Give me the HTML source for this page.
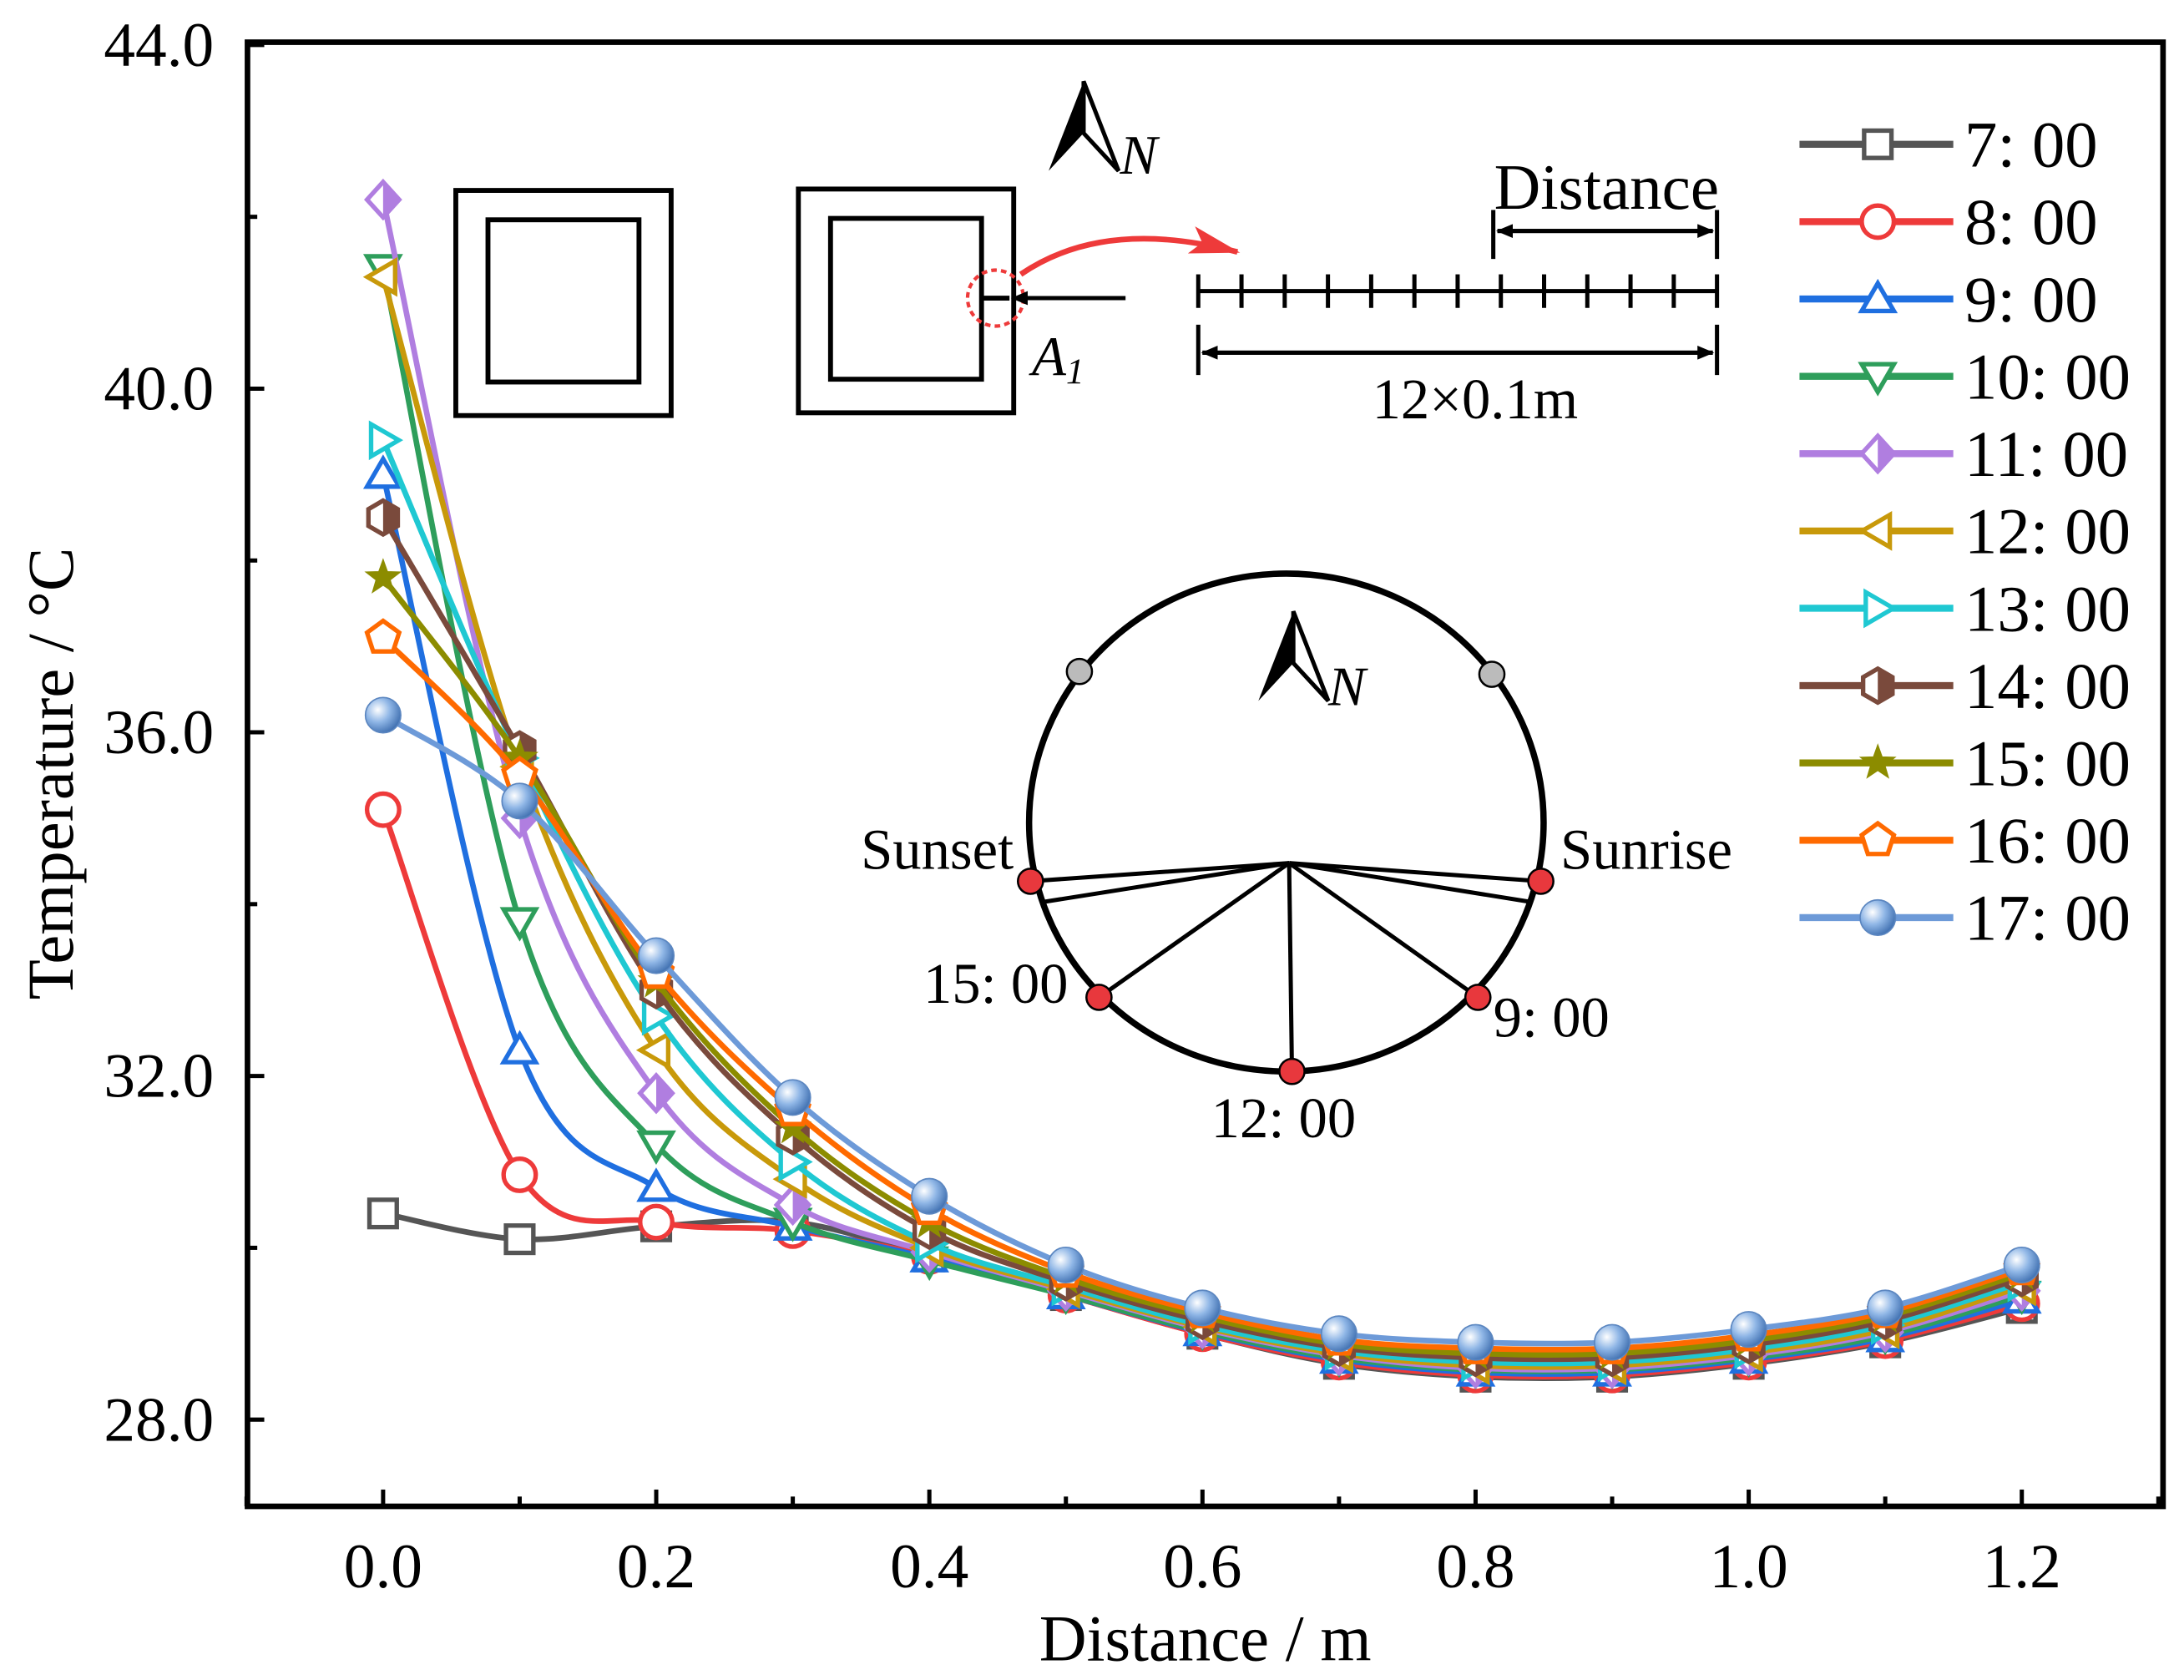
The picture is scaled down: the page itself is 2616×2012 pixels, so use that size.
<!DOCTYPE html>
<html><head><meta charset="utf-8">
<style>
html,body{margin:0;padding:0;background:#fff;}
svg{display:block;font-family:"Liberation Serif",serif;}
</style></head>
<body>
<svg id="chart" width="2616" height="2012" viewBox="0 0 1562 1201" xmlns="http://www.w3.org/2000/svg">
<defs>
<radialGradient id="sph" cx="0.35" cy="0.35" r="0.7">
<stop offset="0" stop-color="#ffffff"/><stop offset="0.5" stop-color="#8fb6e6"/><stop offset="1" stop-color="#3f6fb0"/>
</radialGradient>
<marker id="ah" markerWidth="12" markerHeight="10" refX="11" refY="5" orient="auto" markerUnits="userSpaceOnUse"><path d="M0,0 L12,5 L0,10 z" fill="#000"/></marker>
<marker id="ahr" markerWidth="36" markerHeight="20" refX="34" refY="10" orient="auto" markerUnits="userSpaceOnUse"><path d="M0,0 L36,10 L0,20 L8,10 z" fill="#ee3a3a"/></marker>
</defs>
<rect x="0" y="0" width="1562" height="1201" fill="#fff"/>
<g id="axes"></g>
<g id="series"></g>
<g id="legend"></g>
<g id="inset" fill="none" stroke="#000" stroke-width="3.5">
<rect x="326" y="136" width="154" height="161"/>
<rect x="349" y="157" width="108" height="116"/>
<rect x="571" y="135" width="154" height="160"/>
<rect x="594" y="156" width="108" height="115"/>
<circle cx="712" cy="213" r="20" stroke="#ee3a3a" stroke-dasharray="4,3" stroke-width="2.5"/>
<line x1="702" y1="213" x2="722" y2="213"/>
<line x1="805" y1="213" x2="724" y2="213" stroke-width="3" marker-end="url(#ah)"/>
<path d="M730,196 Q790,155 885,180" stroke="#ee3a3a" stroke-width="4" marker-end="url(#ahr)"/>
<line x1="857" y1="208" x2="1228" y2="208" stroke-width="3"/>
<g id="ticksbar" stroke-width="3"></g>
<line x1="857" y1="232" x2="857" y2="268" stroke-width="3"/>
<line x1="1228" y1="232" x2="1228" y2="268" stroke-width="3"/>
<line x1="860" y1="252" x2="1225" y2="252" stroke-width="3" marker-end="url(#ah)"/>
<line x1="1225" y1="252" x2="860" y2="252" stroke-width="3" marker-end="url(#ah)"/>
<line x1="1068" y1="150" x2="1068" y2="185" stroke-width="3"/>
<line x1="1228" y1="150" x2="1228" y2="185" stroke-width="3"/>
<line x1="1071" y1="165" x2="1225" y2="165" stroke-width="3" marker-end="url(#ah)"/>
<line x1="1225" y1="165" x2="1071" y2="165" stroke-width="3" marker-end="url(#ah)"/>
<ellipse cx="920" cy="588" rx="184" ry="178" stroke-width="4.5"/>
<g stroke-width="3">
<line x1="922" y1="617" x2="737" y2="630"/><line x1="922" y1="617" x2="745" y2="645"/>
<line x1="922" y1="617" x2="1102" y2="630"/><line x1="922" y1="617" x2="1096" y2="645"/>
<line x1="922" y1="617" x2="786" y2="713"/><line x1="922" y1="617" x2="924" y2="766"/>
<line x1="922" y1="617" x2="1057" y2="713"/>
</g>
<g stroke-width="1.5">
<circle cx="737" cy="630" r="9" fill="#e8383d"/>
<circle cx="1102" cy="630" r="9" fill="#e8383d"/>
<circle cx="786" cy="713" r="9" fill="#e8383d"/>
<circle cx="924" cy="766" r="9" fill="#e8383d"/>
<circle cx="1057" cy="713" r="9" fill="#e8383d"/>
<circle cx="772" cy="480" r="9" fill="#bbb"/>
<circle cx="1067" cy="482" r="9" fill="#bbb"/>
</g>
<g stroke="none" fill="#000">
<path d="M775,58 L750,122 L775,95 Z"/><path d="M775,58 L800,122 L775,95 Z" fill="#fff" stroke="#000" stroke-width="3"/>
</g>
<g stroke="none" fill="#000">
<path d="M925,437 L900,501 L925,474 Z"/><path d="M925,437 L950,501 L925,474 Z" fill="#fff" stroke="#000" stroke-width="3"/>
</g>
</g>
<g font-size="40" fill="#000">
<text x="801" y="124" font-style="italic">N</text>
<text x="950" y="504" font-style="italic">N</text>
<text x="738" y="268" font-style="italic">A<tspan font-size="26" dy="6">1</tspan></text>
<text x="1149" y="149" text-anchor="middle" font-size="46">Distance</text>
<text x="1055" y="299" text-anchor="middle" font-size="41">12×0.1m</text>
<text x="725" y="621" text-anchor="end" font-size="41">Sunset</text>
<text x="1116" y="621" font-size="41">Sunrise</text>
<text x="764" y="717" text-anchor="end" font-size="41">15: 00</text>
<text x="1068" y="741" font-size="41">9: 00</text>
<text x="918" y="813" text-anchor="middle" font-size="41">12: 00</text>
</g>
</svg>
<script>
const xValues=[0,0.1,0.2,0.3,0.4,0.5,0.6,0.7,0.8,0.9,1.0,1.1,1.2];
const seriesNames=["7: 00","8: 00","9: 00","10: 00","11: 00","12: 00","13: 00","14: 00","15: 00","16: 00","17: 00"];
const s0700=[30.4,30.1,30.25,30.3,29.9,29.45,29.0,28.65,28.5,28.5,28.65,28.9,29.3];
const s0800=[35.1,30.85,30.3,30.2,29.9,29.45,29.0,28.67,28.52,28.52,28.67,28.92,29.35];
const s0900=[39.0,32.3,30.7,30.25,29.88,29.45,29.02,28.7,28.55,28.55,28.7,28.95,29.4];
const s1000=[41.4,33.8,31.2,30.3,29.85,29.45,29.03,28.72,28.58,28.58,28.72,28.98,29.45];
const s1100=[42.2,35.0,31.8,30.5,29.95,29.5,29.06,28.75,28.6,28.6,28.75,29.02,29.5];
const s1200=[41.3,35.6,32.3,30.8,30.0,29.52,29.08,28.77,28.63,28.63,28.78,29.05,29.55];
const s1300=[39.4,35.7,32.7,31.0,30.05,29.55,29.1,28.8,28.67,28.67,28.82,29.1,29.6];
const s1400=[38.5,35.8,33.0,31.3,30.2,29.6,29.15,28.84,28.72,28.72,28.87,29.15,29.65];
const s1500=[37.8,35.7,33.1,31.4,30.3,29.65,29.2,28.88,28.77,28.77,28.92,29.2,29.7];
const s1600=[37.1,35.5,33.2,31.6,30.45,29.72,29.25,28.93,28.83,28.83,28.98,29.25,29.75];
const s1700=[36.2,35.2,33.4,31.75,30.6,29.8,29.3,29.0,28.9,28.9,29.05,29.3,29.8];
const seriesValues=[s0700,s0800,s0900,s1000,s1100,s1200,s1300,s1400,s1500,s1600,s1700];
const yTickLabels=["28.0","32.0","36.0","40.0","44.0"];
const xTickLabels=["0.0","0.2","0.4","0.6","0.8","1.0","1.2"];

const NS="http://www.w3.org/2000/svg";
const colors=["#555555","#ee3a3a","#1f6fe0","#2e9e5b","#b07ee0","#c8990a","#1fc8d2","#7a4a3c","#8c8c00","#ff6a00","#6d9ad8"];
const shapes=["square","circle","tri-up","tri-down","diamond","tri-left","tri-right","hexagon","star","pentagon","sphere"];
const L=177,R=1547,T=30,B=1077;
function X(v){return 274+(v-0)*(1446-274)/1.2;}
function Y(v){return 1015-(v-28)*(1015-32)/16;}
function mk(tag,attrs,parent){const e=document.createElementNS(NS,tag);for(const k in attrs)e.setAttribute(k,attrs[k]);parent.appendChild(e);return e;}

const axes=document.getElementById('axes');
for(let v=28;v<=44;v+=2){
  const t=mk('line',{x1:L,x2:L+((v%4===0)?12:7),y1:Y(v),y2:Y(v),stroke:'#000','stroke-width':3},axes);
  
  
}
yTickLabels.forEach(s=>{
  const t=mk('text',{x:L-24,y:Y(parseFloat(s))+15,'text-anchor':'end','font-size':45},axes);
  t.textContent=s;
  
  
});
for(let i=-1;i<=13;i++){
  const v=i/10;
  const t=mk('line',{x1:X(v),x2:X(v),y1:B,y2:B-((i%2===0)?12:7),stroke:'#000','stroke-width':3},axes);
  
  
}
xTickLabels.forEach(s=>{
  const t=mk('text',{x:X(parseFloat(s)),y:B+58,'text-anchor':'middle','font-size':45},axes);
  t.textContent=s;
  
  
});
const frame=mk('rect',{x:L,y:T,width:R-L,height:B-T,fill:'none',stroke:'#000','stroke-width':4},axes);


const xt=mk('text',{x:862,y:1187,'text-anchor':'middle','font-size':47},axes);
xt.textContent="Distance / m";


const yt=mk('text',{x:0,y:0,'text-anchor':'middle','font-size':47,transform:'translate(52,553) rotate(-90)'},axes);
yt.textContent="Temperature / °C";



function spline(pts){
  let d=`M${pts[0][0]},${pts[0][1]}`;
  for(let i=0;i<pts.length-1;i++){
    const p0=pts[Math.max(0,i-1)],p1=pts[i],p2=pts[i+1],p3=pts[Math.min(pts.length-1,i+2)];
    const c1=[p1[0]+(p2[0]-p0[0])/6,p1[1]+(p2[1]-p0[1])/6];
    const c2=[p2[0]-(p3[0]-p1[0])/6,p2[1]-(p3[1]-p1[1])/6];
    d+=` C${c1[0]},${c1[1]} ${c2[0]},${c2[1]} ${p2[0]},${p2[1]}`;
  }
  return d;
}
function poly(n,r,cx,cy,rot){let p=[];for(let i=0;i<n;i++){const a=rot+i*2*Math.PI/n;p.push((cx+r*Math.cos(a)).toFixed(1)+','+(cy+r*Math.sin(a)).toFixed(1));}return p.join(' ');}
function marker(shape,c,cx,cy,g,s){
  s=s||1;const r=11.5*s,sw=3.2;
  const base={fill:'#fff',stroke:c,'stroke-width':sw};
  let e;
  switch(shape){
    case 'square': e=mk('rect',Object.assign({x:cx-r*0.85,y:cy-r*0.85,width:r*1.7,height:r*1.7},base),g);break;
    case 'circle': e=mk('circle',Object.assign({cx:cx,cy:cy,r:r},base),g);break;
    case 'tri-up': e=mk('polygon',Object.assign({points:poly(3,r*1.15,cx,cy+2,-Math.PI/2)},base),g);break;
    case 'tri-down': e=mk('polygon',Object.assign({points:poly(3,r*1.15,cx,cy-2,Math.PI/2)},base),g);break;
    case 'tri-left': e=mk('polygon',Object.assign({points:poly(3,r*1.15,cx+2,cy,Math.PI)},base),g);break;
    case 'tri-right': e=mk('polygon',Object.assign({points:poly(3,r*1.15,cx-2,cy,0)},base),g);break;
    case 'pentagon': e=mk('polygon',Object.assign({points:poly(5,r*1.05,cx,cy,-Math.PI/2)},base),g);break;
    case 'star': e=mk('polygon',{points:(()=>{let p=[];for(let i=0;i<10;i++){const a=-Math.PI/2+i*Math.PI/5;const rr=i%2?r*0.45:r*1.1;p.push((cx+rr*Math.cos(a)).toFixed(1)+','+(cy+rr*Math.sin(a)).toFixed(1));}return p.join(' ');})(),fill:c,stroke:c,'stroke-width':1},g);break;
    case 'diamond':
      e=mk('polygon',Object.assign({points:`${cx},${cy-r*1.1} ${cx+r},${cy} ${cx},${cy+r*1.1} ${cx-r},${cy}`},base),g);
      mk('polygon',{points:`${cx},${cy-r*1.1} ${cx+r},${cy} ${cx},${cy+r*1.1}`,fill:c},g);break;
    case 'hexagon':
      e=mk('polygon',Object.assign({points:poly(6,r*1.05,cx,cy,-Math.PI/2)},base),g);
      mk('polygon',{points:`${cx},${cy-r*1.05} ${cx+r*0.91},${cy-r*0.52} ${cx+r*0.91},${cy+r*0.52} ${cx},${cy+r*1.05}`,fill:c},g);break;
    case 'sphere': e=mk('circle',{cx:cx,cy:cy,r:r*1.1,fill:'url(#sph)',stroke:'#5b86c0','stroke-width':1},g);break;
  }
  return e;
}
const sg=document.getElementById('series');
seriesValues.forEach((vals,si)=>{
  const g=mk('g',{},sg);
  
  
  const pts=vals.map((v,i)=>[X(xValues[i]),Y(v)]);
  const p=mk('path',{d:spline(pts),fill:'none',stroke:colors[si],'stroke-width':4},g);
  
  
  pts.forEach(pt=>{
    const m=marker(shapes[si],colors[si],pt[0],pt[1],g);
    
    
  });
});
const lg=document.getElementById('legend');
seriesNames.forEach((n,i)=>{
  const y=103+i*55.3;
  const g=mk('g',{},lg);
  
  
  mk('line',{x1:1287,x2:1397,y1:y,y2:y,stroke:colors[i],'stroke-width':5},g);
  marker(shapes[i],colors[i],1343,y,g,1.0);
  const t=mk('text',{x:1405,y:y+16,'font-size':47},g);
  t.textContent=n;
});
const tb=document.getElementById('ticksbar');
for(let i=0;i<=12;i++){
  const x=857+i*(1228-857)/12;
  mk('line',{x1:x,x2:x,y1:196,y2:220},tb);
}
</script>
</body></html>
